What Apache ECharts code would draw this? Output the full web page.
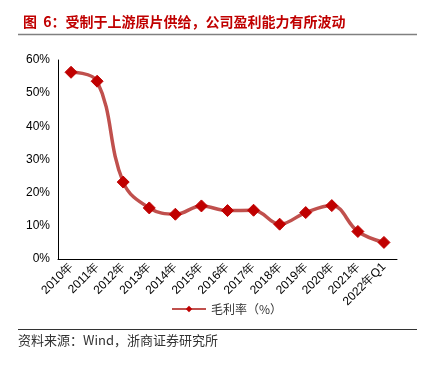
<!DOCTYPE html>
<html>
<head>
<meta charset="utf-8">
<script src="https://cdn.jsdelivr.net/npm/echarts@6/dist/echarts.min.js"></script>
<style>
  html, body { margin: 0; padding: 0; background: #fff; }
  #main { width: 430px; height: 365px; }
</style>
</head>
<body>
<div id="main"></div>
<script>
// 年份
var categories = ['2010年', '2011年', '2012年', '2013年', '2014年', '2015年', '2016年',
    '2017年', '2018年', '2019年', '2020年', '2021年', '2022年Q1'];
// 毛利率（%）
var grossMargin = [56.3, 53.6, 23.2, 15.4, 13.5, 16.0, 14.6, 14.7, 10.5, 14.0, 16.1, 8.3, 5.0];

var myChart = echarts.init(document.getElementById('main'));

var option = {
    animation: false,
    title: {
        text: '图  6：受制于上游原片供给，公司盈利能力有所波动',
        left: 18,
        top: 10,
        textStyle: {
            color: '#C00000',
            fontSize: 14,
            fontWeight: 'bold',
            fontFamily: 'Noto Sans CJK SC'
        }
    },
    graphic: [
        {   // 标题下横线
            type: 'line',
            shape: { x1: 18, y1: 34.5, x2: 417, y2: 34.5 },
            style: { stroke: '#808080', lineWidth: 1.5 }
        },
        {   // 来源上横线
            type: 'line',
            shape: { x1: 18, y1: 329.5, x2: 417, y2: 329.5 },
            style: { stroke: '#333', lineWidth: 1 }
        },
        {
            type: 'text',
            left: 18,
            top: 334,
            style: {
                text: '资料来源：Wind，浙商证券研究所',
                fill: '#333',
                font: '13px "Noto Sans CJK SC"'
            }
        }
    ],
    legend: {
        left: 166,
        top: 298,
        itemWidth: 34,
        itemHeight: 8,
        itemGap: 2,
        textStyle: {
            color: '#333',
            fontSize: 12,
            fontFamily: 'Noto Sans CJK SC'
        },
        data: ['毛利率（%）']
    },
    grid: {
        left: 58,
        right: 33,
        top: 60,
        bottom: 106,
        containLabel: false
    },
    xAxis: {
        type: 'category',
        data: categories,
        boundaryGap: true,
        axisLine: { lineStyle: { color: '#000', width: 1 } },
        axisTick: { inside: true, length: 4, lineStyle: { color: '#000' } },
        axisLabel: {
            rotate: 45,
            margin: 6,
            color: '#000',
            fontSize: 12,
            fontFamily: 'Liberation Sans'
        }
    },
    yAxis: {
        type: 'value',
        min: 0,
        max: 60,
        interval: 10,
        axisLine: { show: true, lineStyle: { color: '#000', width: 1 } },
        axisTick: { show: false },
        splitLine: { show: false },
        axisLabel: {
            formatter: '{value}%',
            color: '#000',
            fontSize: 12,
            margin: 8,
            fontFamily: 'Liberation Sans'
        }
    },
    series: [{
        name: '毛利率（%）',
        type: 'line',
        smooth: 0.4,
        data: grossMargin,
        symbol: 'diamond',
        symbolSize: 12,
        lineStyle: { color: '#C0504D', width: 3.5 },
        itemStyle: { color: '#C00000', borderColor: '#C00000' }
    }]
};

myChart.setOption(option);
</script>
</body>
</html>
